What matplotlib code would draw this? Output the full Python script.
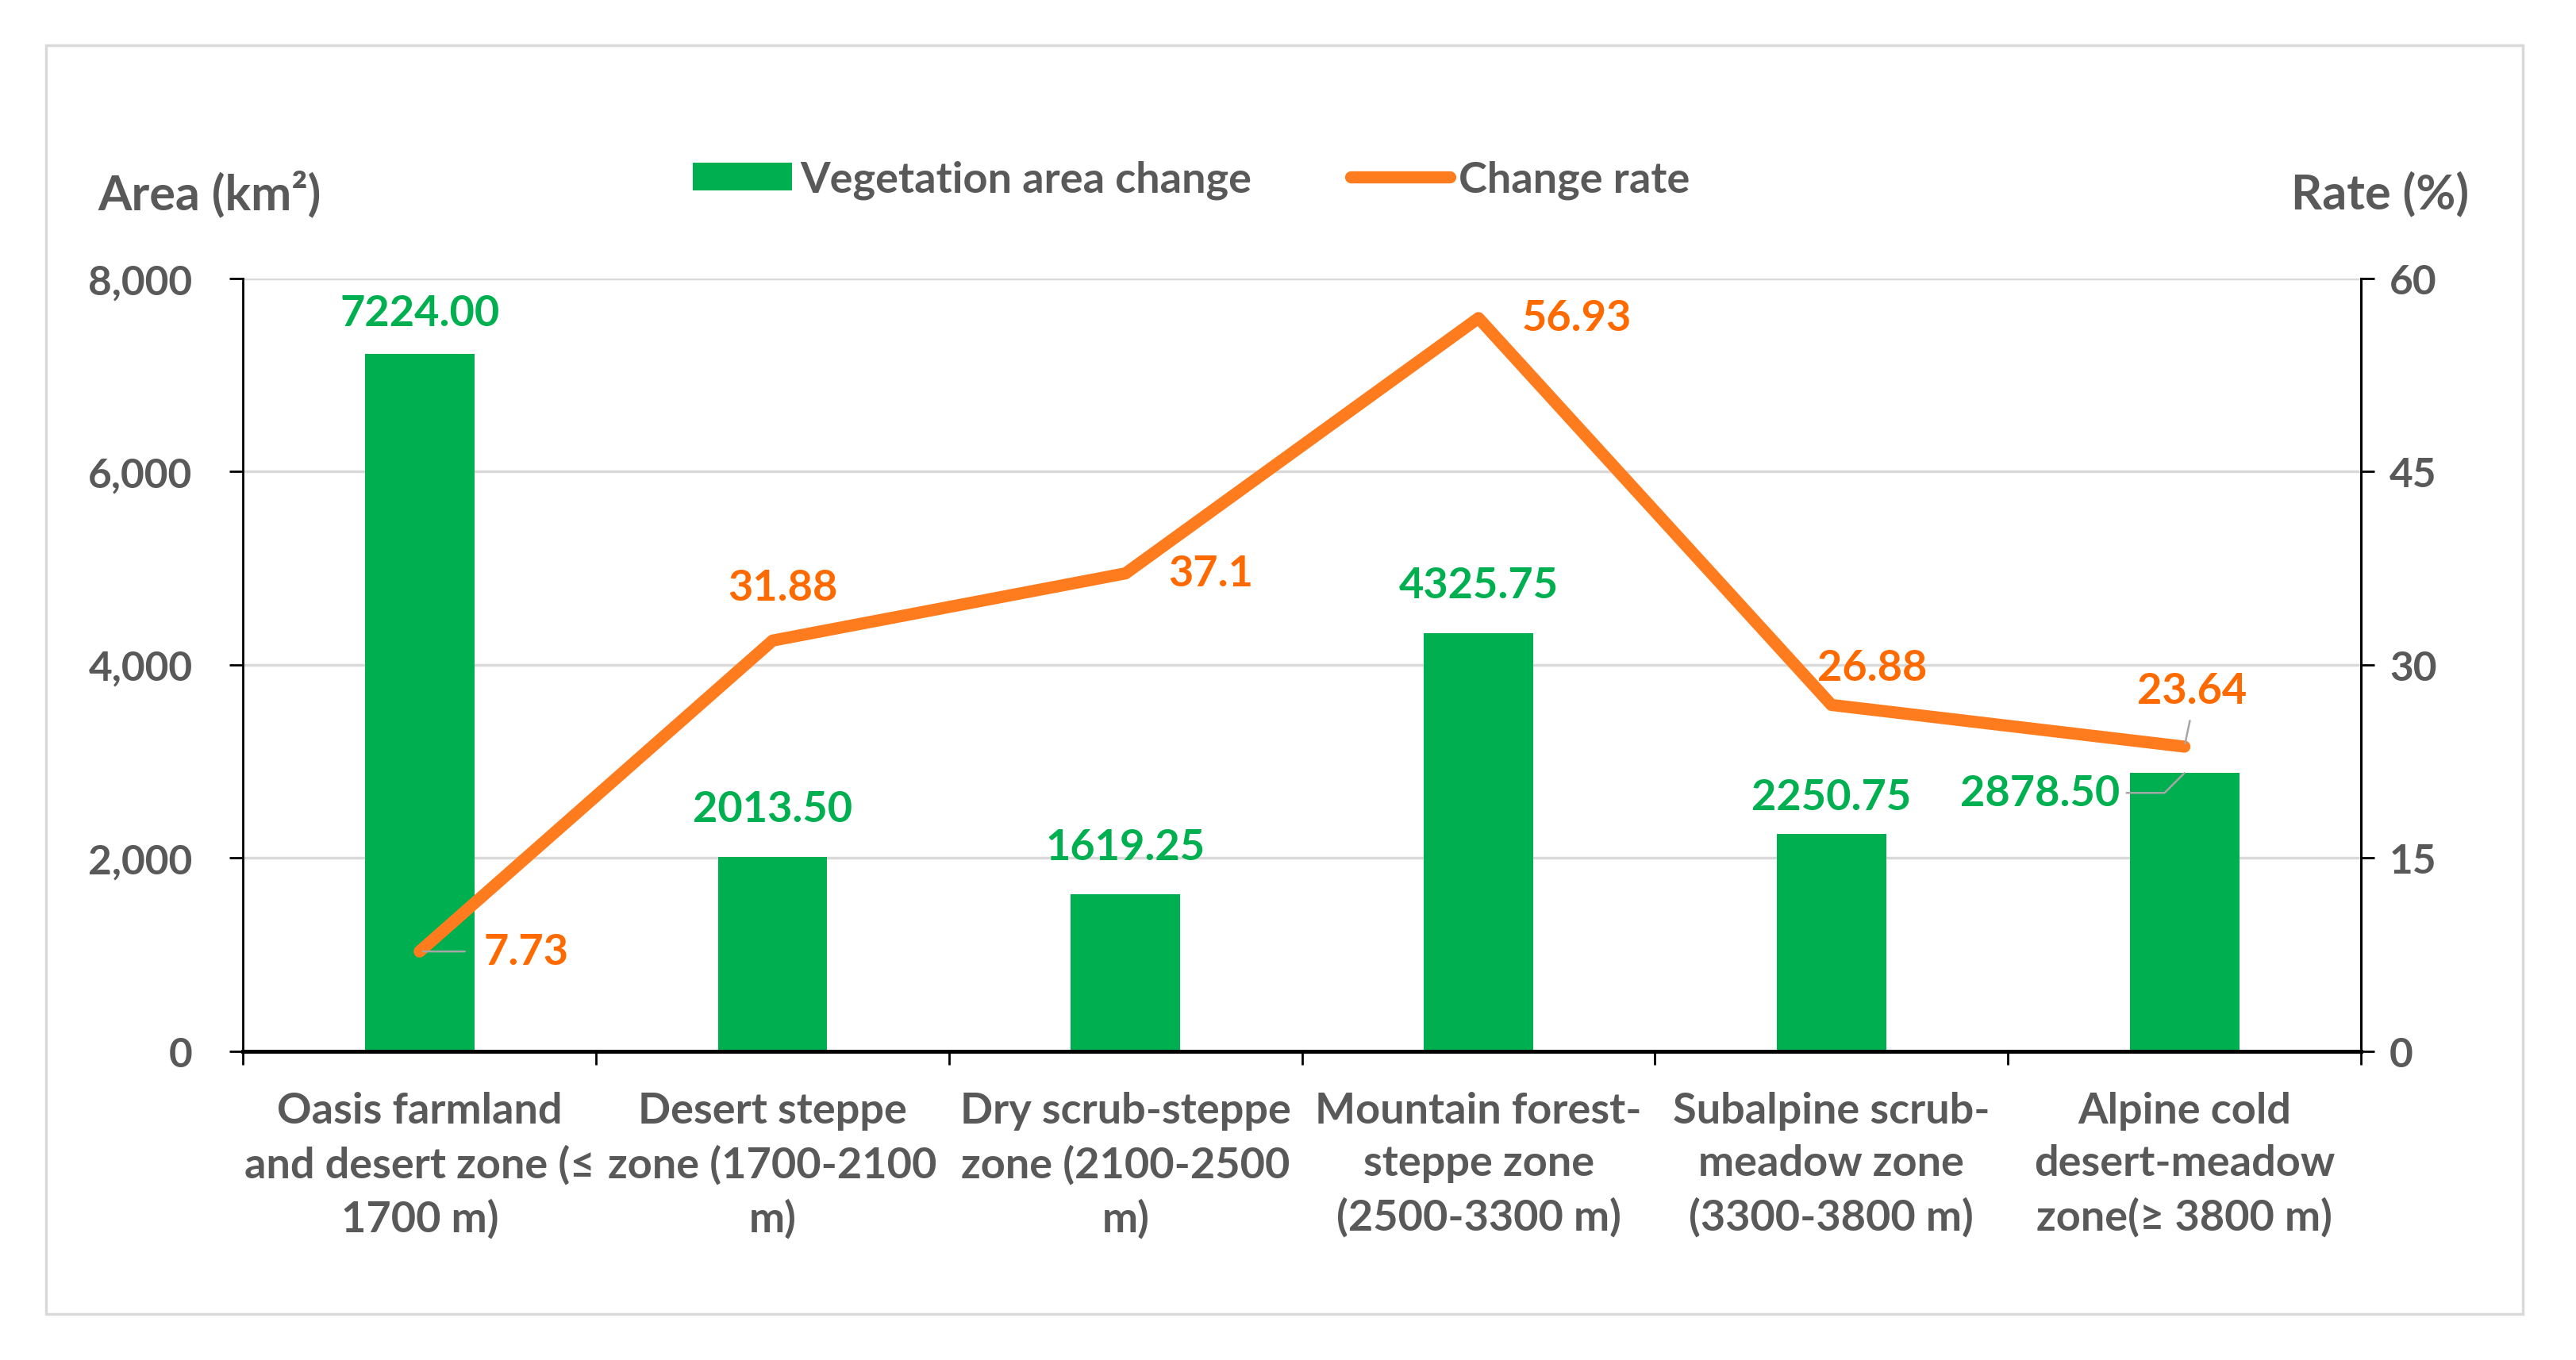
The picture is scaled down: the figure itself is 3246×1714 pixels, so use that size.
import matplotlib
matplotlib.use('Agg')
import matplotlib.pyplot as plt
from matplotlib.patches import Rectangle, Patch
from matplotlib.lines import Line2D

categories = ["Oasis farmland\nand desert zone (≤\n1700 m)",
              "Desert steppe\nzone (1700-2100\nm)",
              "Dry scrub-steppe\nzone (2100-2500\nm)",
              "Mountain forest-\nsteppe zone\n(2500-3300 m)",
              "Subalpine scrub-\nmeadow zone\n(3300-3800 m)",
              "Alpine cold\ndesert-meadow\nzone(≥ 3800 m)"]
area_change = [7224.00, 2013.50, 1619.25, 4325.75, 2250.75, 2878.50]
change_rate = [7.73, 31.88, 37.1, 56.93, 26.88, 23.64]
area_labels = ["7224.00", "2013.50", "1619.25", "4325.75", "2250.75", "2878.50"]
rate_labels = ["7.73", "31.88", "37.1", "56.93", "26.88", "23.64"]
left_ticks = [0, 2000, 4000, 6000, 8000]
left_tick_labels = ["0", "2,000", "4,000", "6,000", "8,000"]
right_ticks = [0, 15, 30, 45, 60]
right_tick_labels = ["0", "15", "30", "45", "60"]

FAM = ['Lato', 'DejaVu Sans']
plt.rcParams['font.family'] = FAM
GRAY = '#595959'
GREEN = '#00B050'
ORANGE_LINE = '#FF7C1E'
ORANGE_TXT = '#FF6A00'
LEADER = '#A6A6A6'
FS_TICK = 37
FS_X = 39
FS_DATA = 39
FS_LEG = 39
FS_TITLE = 44

fig = plt.figure(figsize=(32.46, 17.15), dpi=100)
fig.add_artist(Rectangle((0.0179, 0.0338), 0.9614, 0.9324, transform=fig.transFigure,
                         fill=False, edgecolor='#D9D9D9', lw=2.5))

ax = fig.add_axes([0.0944, 0.2271, 0.8221, 0.5676])
x = list(range(len(categories)))
ax.bar(x, area_change, width=0.31, color=GREEN, zorder=2)
ax.set_xlim(-0.5, len(categories) - 0.5)
ax.set_ylim(0, 8000)
ax.set_yticks(left_ticks, labels=left_tick_labels)
ax.yaxis.grid(True, color='#D9D9D9', lw=2.5)
ax.set_axisbelow(True)

ax.set_xticks([i - 0.5 for i in range(len(categories) + 1)])
ax.set_xticklabels([])
ax.set_xticks(x, minor=True)
ax.set_xticklabels(categories, minor=True)
ax.tick_params(axis='x', which='major', direction='out', length=12, width=2, color='black')
ax.tick_params(axis='x', which='minor', length=0, pad=36, labelsize=FS_X, labelcolor=GRAY)
for lbl in ax.get_xticklabels(minor=True):
    lbl.set_linespacing(1.43)
    lbl.set_fontweight('bold')
ax.tick_params(axis='y', direction='out', length=12, width=2, pad=34,
               labelsize=FS_TICK, labelcolor=GRAY)
for lbl in ax.get_yticklabels():
    lbl.set_fontweight('bold')

ax.spines['top'].set_visible(False)
ax.spines['bottom'].set_linewidth(3.5)
ax.spines['left'].set_linewidth(2)
ax.spines['right'].set_linewidth(2)

ax2 = ax.twinx()
ax2.plot(x, change_rate, color=ORANGE_LINE, lw=11, solid_capstyle='round',
         solid_joinstyle='round', zorder=3)
ax2.set_ylim(0, 60)
ax2.set_yticks(right_ticks, labels=right_tick_labels)
ax2.tick_params(axis='y', direction='out', length=12, width=2, pad=14,
                labelsize=FS_TICK, labelcolor=GRAY)
for lbl in ax2.get_yticklabels():
    lbl.set_fontweight('bold')
ax2.spines['top'].set_visible(False)
ax2.spines['right'].set_linewidth(2)
ax2.spines['left'].set_visible(False)
ax2.spines['bottom'].set_visible(False)

# bar data labels
bar_offsets = [(0, 37), (0, 43), (0, 43), (0, 44), (0, 33), (-131, -18)]
for i, (v, t) in enumerate(zip(area_change, area_labels)):
    dx, dy = bar_offsets[i]
    if i == 5:
        ax2.annotate(t, xy=(i, v * 60 / 8000), xytext=(dx, dy), textcoords='offset points',
                     ha='center', va='center', color=GREEN, fontsize=FS_DATA, fontweight='bold',
                     arrowprops=dict(arrowstyle='-', color=LEADER, lw=1.8, shrinkA=4, shrinkB=0,
                                     relpos=(1, 0.5),
                                     connectionstyle='angle,angleA=0,angleB=45,rad=0'),
                     zorder=5)
    else:
        ax.annotate(t, xy=(i, v), xytext=(dx, dy), textcoords='offset points',
                    ha='center', va='center', color=GREEN, fontsize=FS_DATA, fontweight='bold')

# rate data labels
rate_offsets = [(58, 0, 'left'), (9, 48, 'center'), (39, 0, 'left'),
                (39, 0, 'left'), (37, 34, 'center'), (7, 51, 'center')]
for i, (v, t) in enumerate(zip(change_rate, rate_labels)):
    dx, dy, ha = rate_offsets[i]
    kw = {}
    if i == 0:
        kw['arrowprops'] = dict(arrowstyle='-', color=LEADER, lw=1.8, shrinkA=15, shrinkB=3,
                                relpos=(0, 0.5))
    if i == 5:
        kw['arrowprops'] = dict(arrowstyle='-', color=LEADER, lw=1.8, shrinkA=8, shrinkB=3,
                                relpos=(0.5, 0))
    ax2.annotate(t, xy=(i, v), xytext=(dx, dy), textcoords='offset points',
                 ha=ha, va='center', color=ORANGE_TXT, fontsize=FS_DATA, fontweight='bold',
                 zorder=5, **kw)

# axis titles
fig.text(0.038, 0.8575, 'Area (km²)', ha='left', va='center', fontsize=FS_TITLE,
         color=GRAY, fontweight='bold')
fig.text(0.9585, 0.8575, 'Rate (%)', ha='right', va='center', fontsize=FS_TITLE,
         color=GRAY, fontweight='bold')

handles = [Patch(facecolor=GREEN, edgecolor='none'),
           Line2D([], [], color=ORANGE_LINE, lw=11, solid_capstyle='round')]
fig.legend(handles, ['Vegetation area change', 'Change rate'], loc='center',
           bbox_to_anchor=(0.4625, 0.8675), ncol=2, frameon=False,
           prop=dict(family=FAM, size=FS_LEG, weight='bold'), labelcolor=GRAY,
           handlelength=2.3, handleheight=0.6, handletextpad=0.2, columnspacing=2.3)

fig.savefig('out.png', dpi=100)
